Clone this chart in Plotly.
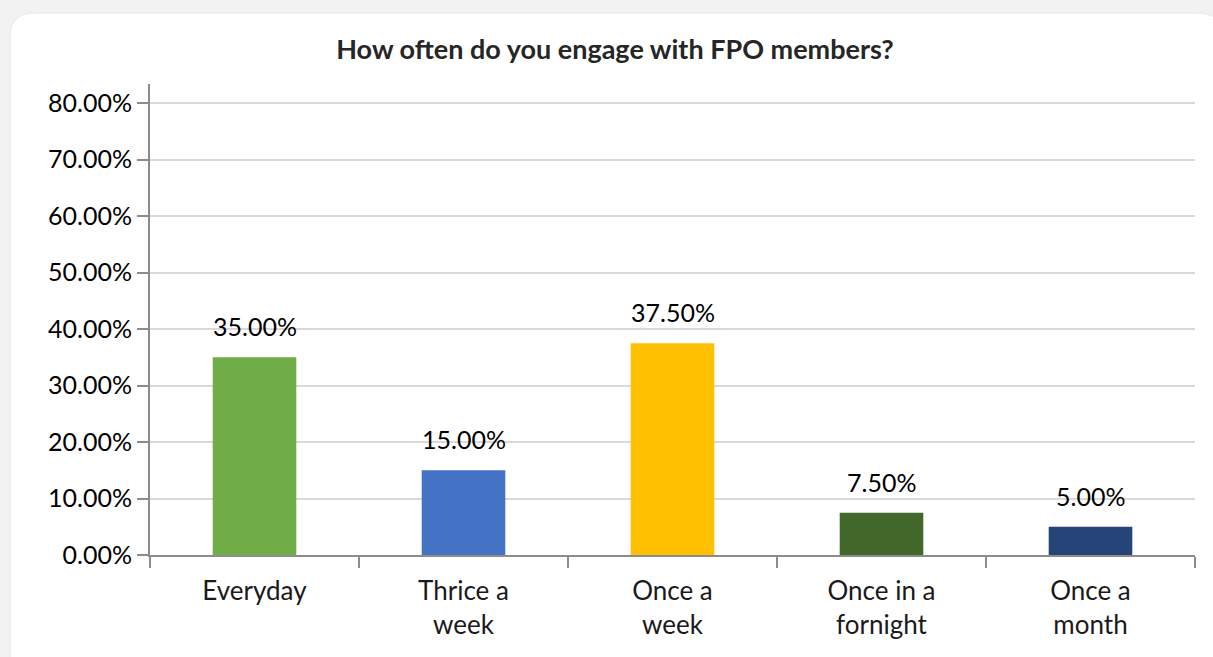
import plotly.graph_objects as go

categories = ["Everyday", "Thrice a<br>week", "Once a<br>week", "Once in a<br>fornight", "Once a<br>month"]
values = [35.0, 15.0, 37.5, 7.5, 5.0]
bar_colors = ["#70AD47", "#4472C4", "#FFC000", "#43682B", "#264478"]
y_ticks = [0, 10, 20, 30, 40, 50, 60, 70, 80]
y_tick_labels = [f"{v:.2f}%" for v in y_ticks]
title = "How often do you engage with FPO members?"

FONT = "Lato, Liberation Sans, sans-serif"
W, H = 1213, 657
L, R, T, B = 150, 18, 84, 102
pw, ph = W - L - R, H - T - B

def px_to_paper(px, py):
    return (px - L) / pw, (H - B - py) / ph

fig = go.Figure()
fig.add_trace(go.Bar(
    x=categories, y=values, marker=dict(color=bar_colors, line=dict(width=0)),
    width=0.4, showlegend=False, hoverinfo="x+y",
))

for c, v in zip(categories, values):
    fig.add_annotation(x=c, y=v, xref="x", yref="y", text=f"{v:.2f}%", showarrow=False,
                       yanchor="bottom", yshift=14,
                       font=dict(family=FONT, size=25, color="#000000"))

# card background with rounded corners
x0, y0 = px_to_paper(10, 13)
x1, y1 = px_to_paper(1222, 657 + 30)
rx = 24 / pw
ry = 24 / ph
path = (f"M {x0+rx},{y0} L {x1-rx},{y0} Q {x1},{y0} {x1},{y0-ry} "
        f"L {x1},{y1} L {x0},{y1} L {x0},{y0-ry} Q {x0},{y0} {x0+rx},{y0} Z")
fig.add_shape(type="path", path=path, xref="paper", yref="paper",
              fillcolor="#FFFFFF", line=dict(color="#E6E6E6", width=1), layer="below")

fig.update_layout(
    width=W, height=H,
    margin=dict(l=L, r=R, t=T, b=B, pad=0),
    paper_bgcolor="#F2F2F2", plot_bgcolor="rgba(0,0,0,0)",
    font=dict(family=FONT, size=25, color="#000000"),
    title=dict(text=f"<b>{title}</b>", x=615 / W, xanchor="center",
               y=1 - 50 / H, yanchor="middle",
               font=dict(family=FONT, size=27, color="#262626")),
)
fig.update_xaxes(
    showline=True, linecolor="#8C8C8C", linewidth=2,
    ticks="outside", ticklen=11, tickwidth=2, tickcolor="#8C8C8C",
    tickson="boundaries", showgrid=False, ticklabelstandoff=12,
    tickfont=dict(family=FONT, size=26, color="#1A1A1A"),
    range=[-0.5, 4.5],
)
fig.update_yaxes(
    range=[0, 83.4], tickvals=y_ticks, ticktext=y_tick_labels,
    showline=True, linecolor="#8C8C8C", linewidth=2,
    ticks="outside", ticklen=11, tickwidth=2, tickcolor="#8C8C8C",
    showgrid=True, gridcolor="#D9D9D9", gridwidth=2, zeroline=False,
    tickfont=dict(family=FONT, size=25, color="#000000"),
)

fig.write_html("out.html", config={"displayModeBar": False},
               post_script="document.body.style.margin='0';document.body.style.overflow='hidden';")
